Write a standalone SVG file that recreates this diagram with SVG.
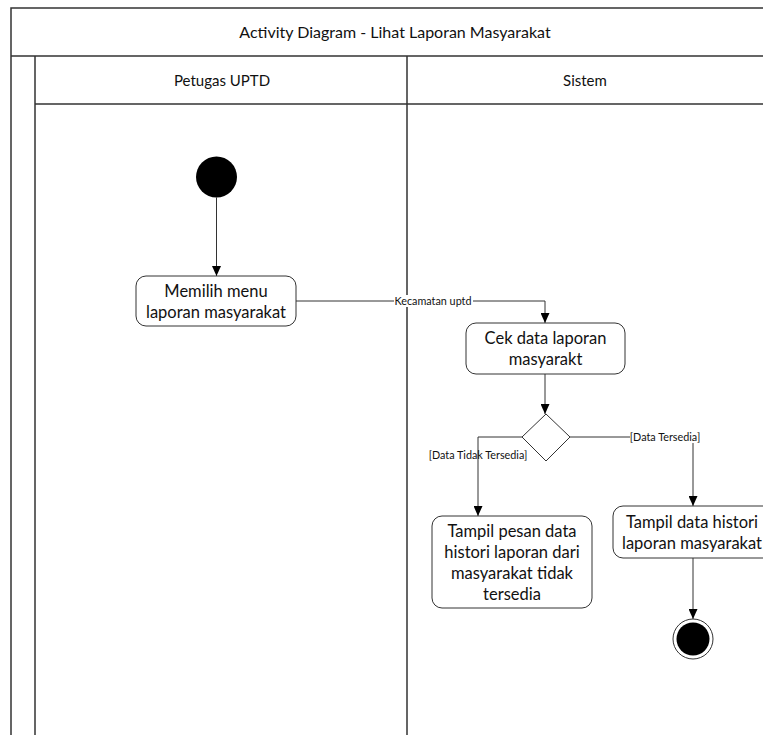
<svg xmlns="http://www.w3.org/2000/svg" width="763" height="735" viewBox="0 0 763 735">
  <style>
    .frame { fill: none; stroke: #333; stroke-width: 1.5; }
    .node { fill: #fff; stroke: #333; stroke-width: 1; }
    .txt { font-family: Lato, "Liberation Sans", sans-serif; fill: #111; text-anchor: middle; }
    .title { font-size: 16px; }
    .head { font-size: 15px; }
    .lbl { font-size: 16.5px; }
    .small { font-size: 10.8px; font-family: Lato, "Liberation Sans", sans-serif; fill: #111; text-anchor: middle; }
    .edge { fill: none; stroke: #333; stroke-width: 1; marker-end: url(#arrow); }
  </style>
  <defs>
    <marker id="arrow" viewBox="0 0 10 10" refX="10" refY="5" markerWidth="10" markerHeight="9" markerUnits="userSpaceOnUse" orient="auto" preserveAspectRatio="none">
      <path d="M0,0 L10,5 L0,10 z" fill="#000"/>
    </marker>
  </defs>
  <rect width="763" height="735" fill="#fff"/>

  <!-- swimlane frame -->
  <g id="frame">
    <path class="frame" d="M11,735 V8 H763 M11,56 H763 M35,735 V56 M35,104 H763 M407,56 V735"/>
    <text class="txt title" x="395" y="38">Activity Diagram - Lihat Laporan Masyarakat</text>
    <text class="txt head" x="222" y="86">Petugas UPTD</text>
    <text class="txt head" x="585" y="86">Sistem</text>
  </g>

  <!-- connectors -->
  <g id="connectors">
    <path class="edge" d="M216.5,197.5 V276"/>
    <path class="edge" d="M296,301 H545 V323"/>
    <rect x="394" y="295" width="79" height="12" fill="#fff"/>
    <text class="small" x="433" y="304.5">Kecamatan uptd</text>
    <path class="edge" d="M545,374 V414"/>
    <path class="edge" d="M522,437 H478 V516"/>
    <text class="small" x="478" y="459">[Data Tidak Tersedia]</text>
    <path class="edge" d="M570,437 H693 V506"/>
    <rect x="630" y="431" width="70" height="12" fill="#fff"/>
    <text class="small" x="665" y="441">[Data Tersedia]</text>
    <path class="edge" d="M693,558 V619"/>
  </g>

  <!-- nodes -->
  <g id="start">
    <circle cx="216.5" cy="177" r="20.5" fill="#000"/>
  </g>
  <g id="memilih-menu">
    <rect class="node" x="136" y="276" width="160" height="50" rx="10"/>
    <text class="txt lbl" x="216" y="297">Memilih menu</text>
    <text class="txt lbl" x="216" y="318">laporan masyarakat</text>
  </g>
  <g id="cek-data">
    <rect class="node" x="466" y="323" width="159" height="51" rx="10"/>
    <text class="txt lbl" x="545.5" y="344">Cek data laporan</text>
    <text class="txt lbl" x="545.5" y="365">masyarakt</text>
  </g>
  <g id="decision">
    <path class="node" d="M546,414 L570,437 L546,461 L522,437 z"/>
  </g>
  <g id="tidak-tersedia">
    <rect class="node" x="432" y="516" width="160" height="92" rx="10"/>
    <text class="txt lbl" x="512" y="537">Tampil pesan data</text>
    <text class="txt lbl" x="512" y="558">histori laporan dari</text>
    <text class="txt lbl" x="512" y="579">masyarakat tidak</text>
    <text class="txt lbl" x="512" y="600">tersedia</text>
  </g>
  <g id="tampil-data">
    <rect class="node" x="613" y="506" width="162" height="52" rx="10"/>
    <text class="txt lbl" x="692" y="528">Tampil data histori</text>
    <text class="txt lbl" x="692" y="549">laporan masyarakat</text>
  </g>
  <g id="end">
    <circle cx="693" cy="639" r="20" fill="#fff" stroke="#333" stroke-width="1"/>
    <circle cx="693" cy="639" r="16.5" fill="#000"/>
  </g>
</svg>
